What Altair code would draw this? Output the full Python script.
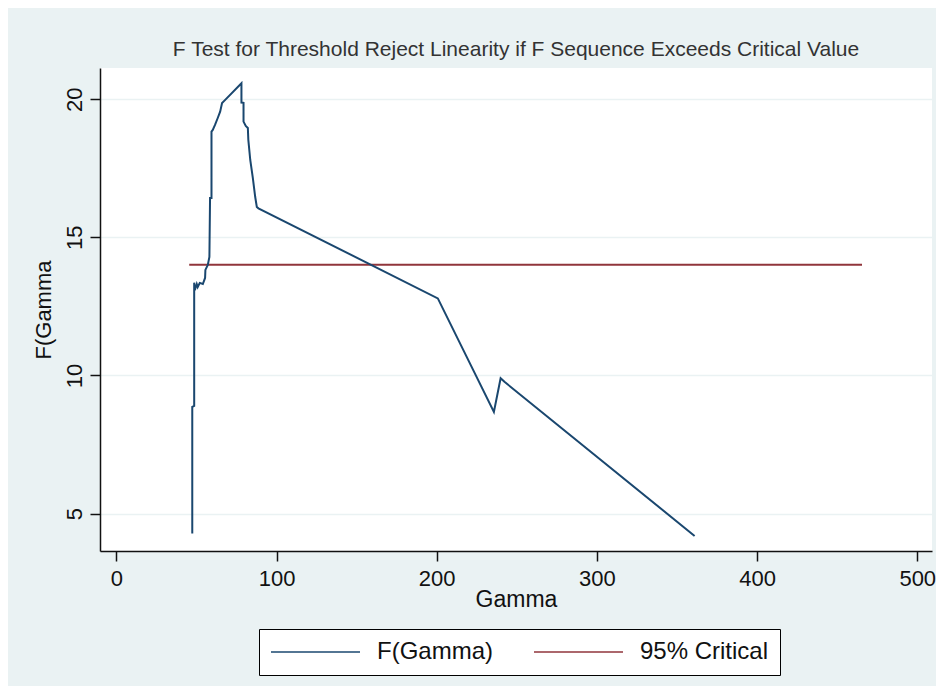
import altair as alt
import pandas as pd

# ---- data ----
gamma = [47.4, 47.4, 48.6, 48.6, 49.0, 50.2, 50.8, 52.1, 54.0, 55.4, 55.6, 57.1,
         58.1, 58.5, 59.4, 59.4, 60.2, 61.6, 63.3, 64.8, 66.0, 67.5, 78.1, 78.1,
         79.4, 79.4, 80.8, 82.1, 82.4, 83.6, 85.2, 86.7, 87.7, 88.7, 200.7, 235.7,
         239.9, 242.3, 361.0]
f_gamma = [4.28, 8.86, 8.90, 13.36, 13.09, 13.31, 13.20, 13.35, 13.31, 13.53, 13.82, 14.00,
           14.29, 16.42, 16.42, 18.83, 18.89, 19.07, 19.32, 19.55, 19.86, 19.95, 20.58, 19.88,
           19.87, 19.19, 19.03, 18.96, 18.53, 17.80, 17.15, 16.46, 16.10, 16.05, 12.79, 8.68,
           9.90, 9.77, 4.19]
crit_gamma = [45.5, 465.5]
crit_value = [14.01, 14.01]

series_names = ["F(Gamma)", "95% Critical"]
series_colors = ["#1a476f", "#90353b"]
x_ticks = [0, 100, 200, 300, 400, 500]
y_ticks = [5, 10, 15, 20]

df_f = pd.DataFrame({"gamma": gamma, "F": f_gamma,
                     "series": series_names[0], "idx": range(len(gamma))})
df_c = pd.DataFrame({"gamma": crit_gamma, "F": crit_value,
                     "series": series_names[1], "idx": range(len(crit_gamma))})

FONT = "Liberation Sans"

x_enc = alt.X("gamma:Q",
              scale=alt.Scale(domain=[-10.2, 509.2], nice=False, zero=False),
              axis=alt.Axis(title="Gamma", values=x_ticks, grid=False,
                            labelFontSize=22, titleFontSize=23,
                            labelPadding=7, titlePadding=-1,
                            tickSize=10, labelFlush=False))
y_enc = alt.Y("F:Q",
              scale=alt.Scale(domain=[3.645, 21.13], nice=False, zero=False),
              axis=alt.Axis(title="F(Gamma", values=y_ticks, grid=True,
                            labelAngle=-90, labelAlign="center", labelBaseline="alphabetic",
                            labelFontSize=22, titleFontSize=22,
                            labelPadding=9, titlePadding=8, tickSize=10))
# legend symbol: a horizontal stroke drawn to the right of the symbol anchor
color_enc = alt.Color("series:N",
                      scale=alt.Scale(domain=series_names, range=series_colors),
                      legend=alt.Legend(title=None, orient="none", legendX=159, legendY=561,
                                        direction="horizontal", symbolType="M0,0H8",
                                        symbolSize=495, symbolStrokeWidth=1.6,
                                        symbolOffset=-11, symbolFillColor="transparent",
                                        labelFontSize=24, labelFont=FONT, labelColor="#111",
                                        labelOffset=94, columnPadding=37, padding=11,
                                        strokeColor="black", fillColor="white",
                                        labelLimit=300))

crit = alt.Chart(df_c).mark_line(strokeWidth=2).encode(
    x=x_enc, y=y_enc, color=color_enc, order="idx:Q")
fline = alt.Chart(df_f).mark_line(strokeWidth=2).encode(
    x=x_enc, y=y_enc, color=color_enc, order="idx:Q")

chart = alt.layer(crit, fline).properties(
    width=832, height=483,
    title=alt.TitleParams("F Test for Threshold Reject Linearity if F Sequence Exceeds Critical Value",
                          fontSize=21, font=FONT, fontWeight="normal", color="#333",
                          anchor="middle", offset=8),
    autosize=alt.AutoSizeParams(type="none"),
    padding={"left": 92, "top": 60, "right": 4, "bottom": 135},
    background="#eaf2f3",
).configure_view(
    fill="white", stroke=None
).configure_axis(
    labelFont=FONT, titleFont=FONT, labelColor="#111", titleColor="#111",
    titleFontWeight="normal", domainColor="#111", domainWidth=1.5,
    tickColor="#111", tickWidth=1.5, gridColor="#eaf2f3", gridWidth=1.5
)

chart.save("out.html", embed_options={"renderer": "svg", "actions": False})
